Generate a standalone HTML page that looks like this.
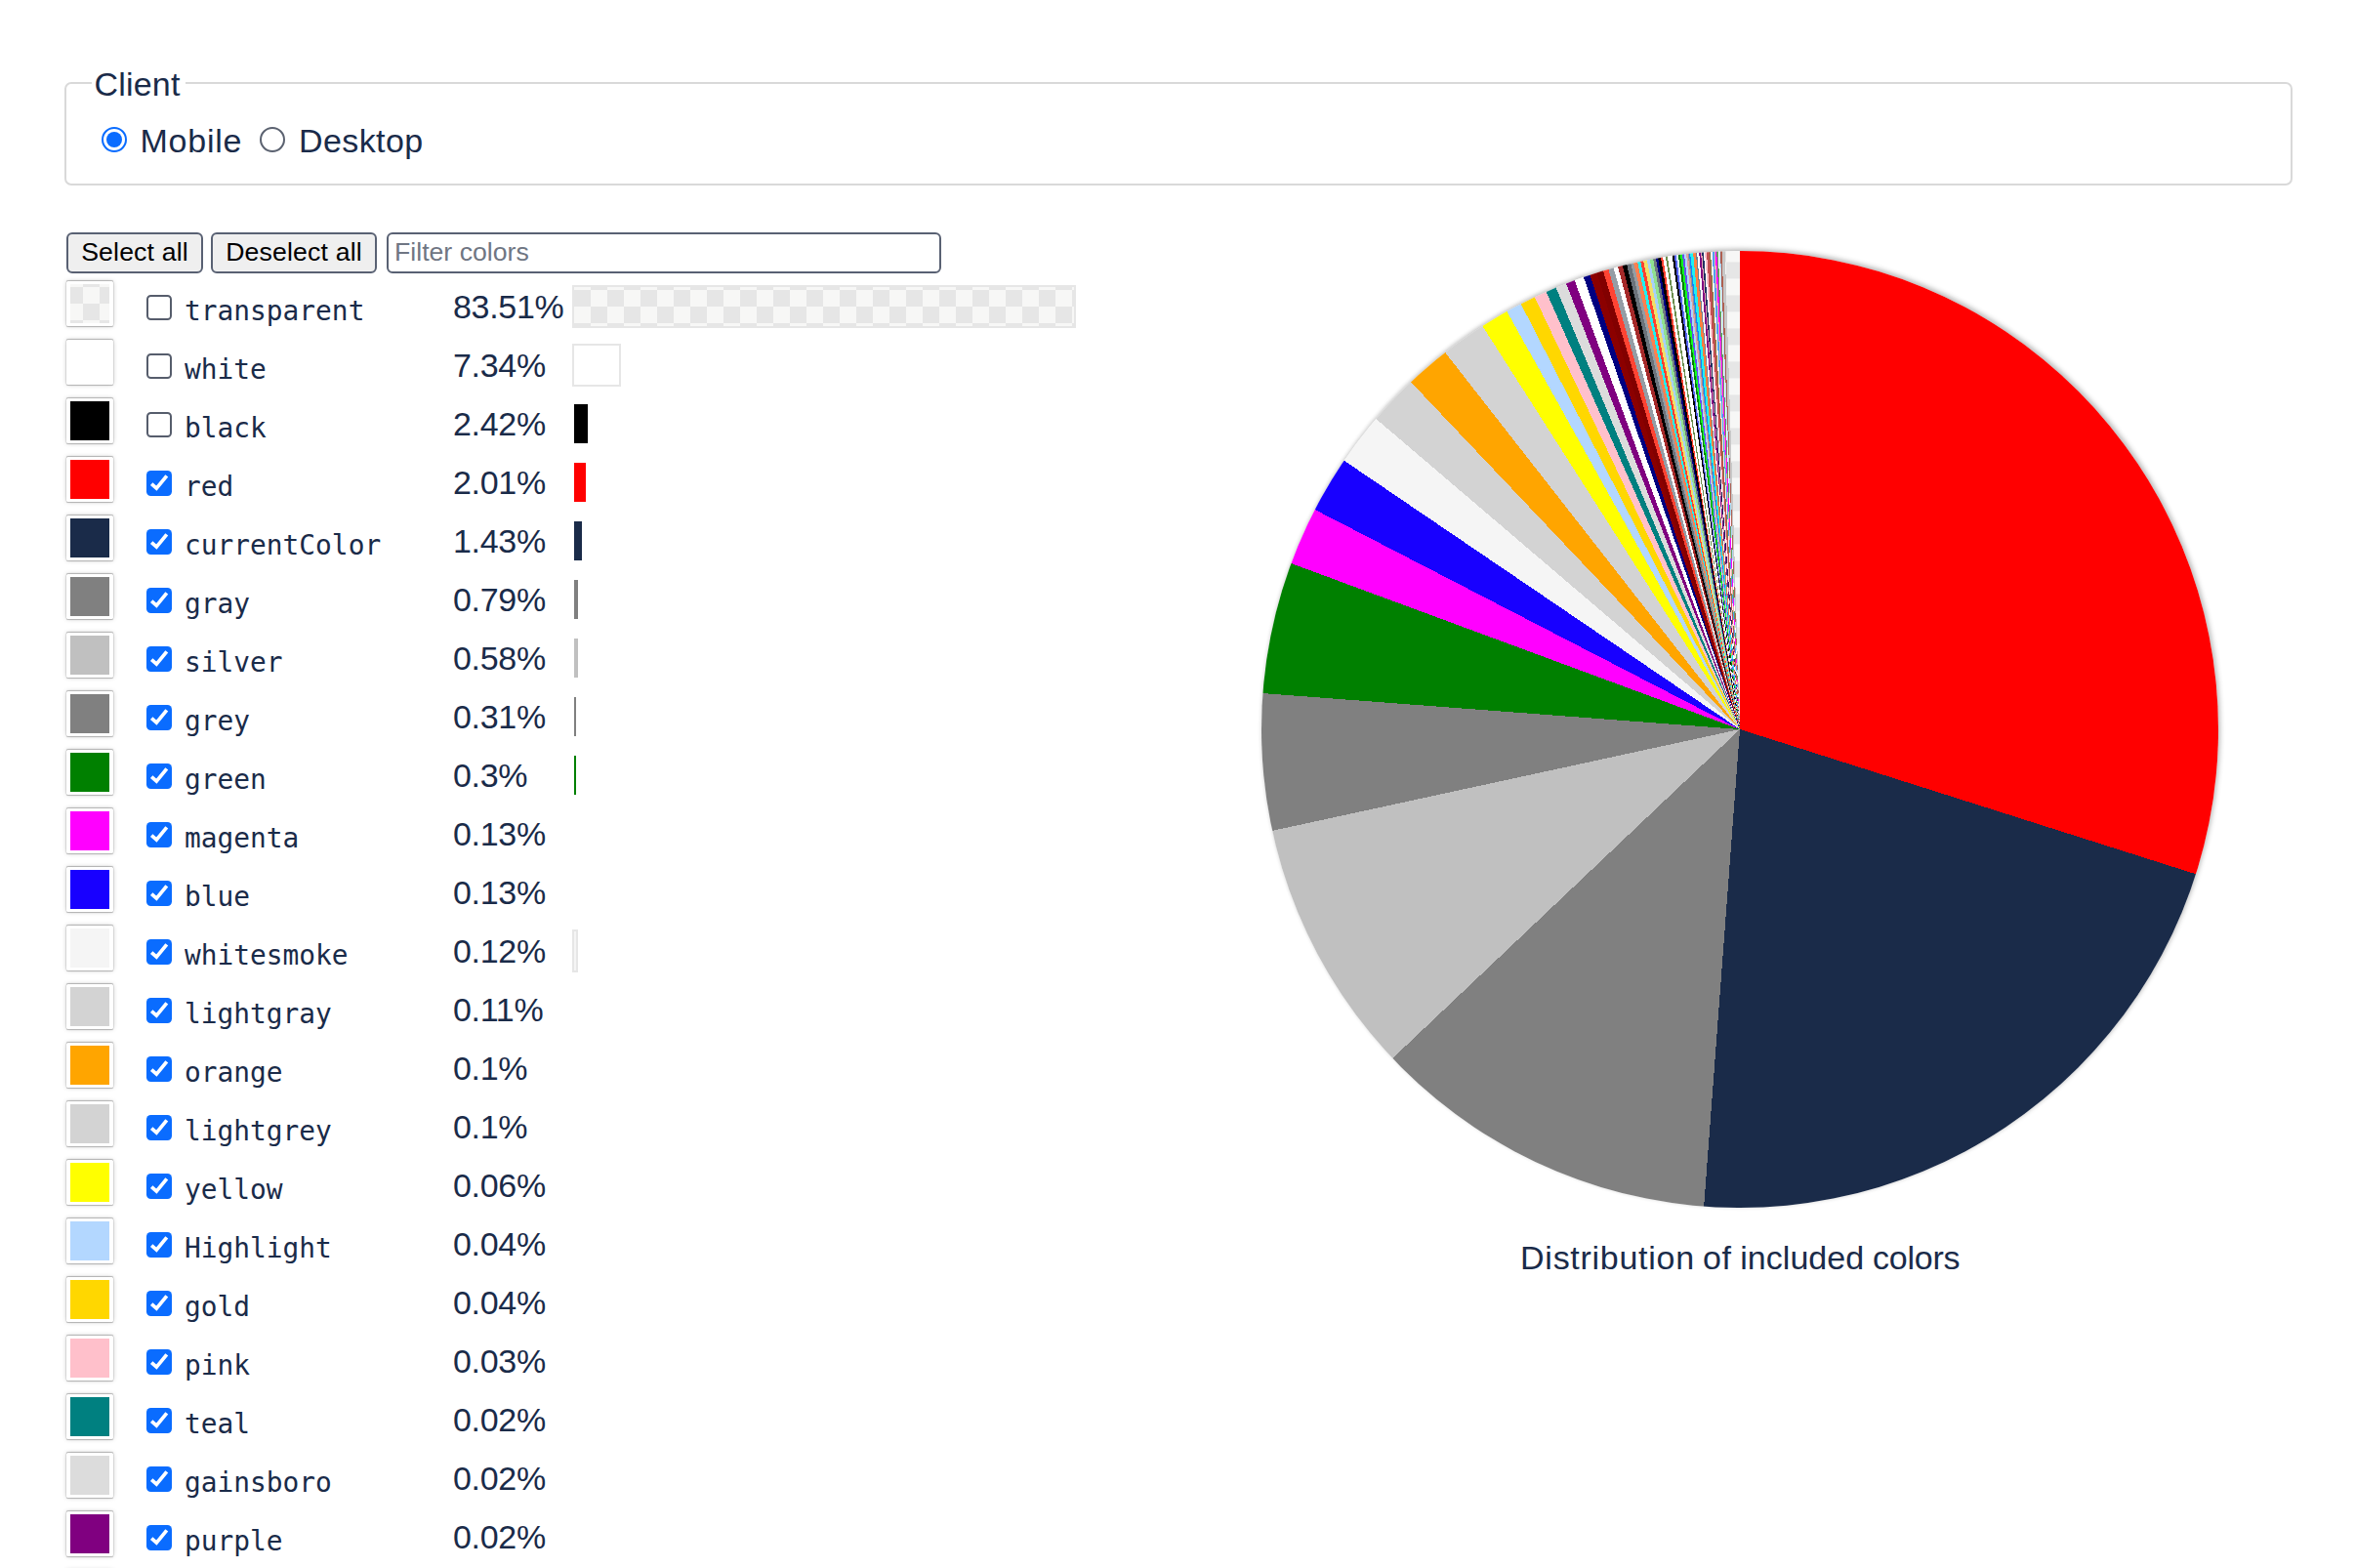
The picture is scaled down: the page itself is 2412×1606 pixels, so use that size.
<!DOCTYPE html><html lang="en"><head><meta charset="utf-8"><title>Color keywords</title><style>

*{box-sizing:border-box}
html,body{margin:0;padding:0;background:#fff}
@media (max-width:1500px){html{zoom:.5}}
body{width:2412px;height:1606px;position:relative;overflow:hidden;color:#1a2b49;font-family:"Liberation Sans",sans-serif;font-size:34px;line-height:1}
.abs{position:absolute}
.t{position:absolute;white-space:nowrap;line-height:40px;height:40px}
fieldset{position:absolute;left:66px;top:84px;width:2282px;height:106px;margin:0;padding:0;border:2px solid #d9d9d9;border-radius:7px}
.legend{position:absolute;left:94px;top:60px;width:96px;height:48px;background:#fff}
.radio{position:absolute;width:26px;height:26px;border-radius:50%;border:2px solid #5b6270;background:#fff}
.radio.on{border-color:#0a6cff}
.radio.on:after{content:"";position:absolute;left:3px;top:3px;width:16px;height:16px;border-radius:50%;background:#0a6cff}
.btn{position:absolute;top:238px;height:42px;border:2.5px solid #596173;border-radius:6px;background:#efefef;color:#000;font-size:26.667px;line-height:37px;text-align:center;white-space:nowrap;letter-spacing:.15px}
.inp{position:absolute;left:396px;top:238px;width:568px;height:42px;border:2.5px solid #596173;border-radius:6px;background:#fff;color:#6f7683;font-size:26.667px;line-height:37px;padding-left:6px;white-space:nowrap}
.sw{position:absolute;left:68px;width:48px;height:46px;border-radius:1.5px;background:#fff;box-shadow:0 0 0 .5px rgba(0,0,0,.09),0 1.2px 1px -.6px rgba(0,0,0,.2),0 -1.2px 1px -.6px rgba(0,0,0,.2),0 0 5px rgba(0,0,0,.2)}
.sw i{position:absolute;left:4px;top:3px;width:40px;height:40px;display:block}
.cb{position:absolute;left:150px;width:26px;height:26px;border-radius:4.5px;border:2px solid #565d6c;background:#fff}
.cb.on{border:0;background:#0a6cff}
.cb svg{position:absolute;left:0;top:0}
.nm{left:189px;font-family:"DejaVu Sans Mono","Liberation Mono",monospace;font-size:27.85px;transform-origin:0 31px;transform:scaleY(1.03)}
.pc{left:464px;letter-spacing:-.3px}
.bar{position:absolute;left:588px;height:40px}
.bar.lt{outline:2px solid #e6e6e6}
#pie{position:absolute;left:1292px;top:257px;width:980px;height:980px;border-radius:50%;box-shadow:2px -2px 5px .5px rgba(0,0,0,.2),0 -1px 4px rgba(0,0,0,.1);background:conic-gradient(#ff0000 0 107.62deg,#1a2b49 0 184.31deg,#808080 0 226.54deg,#c0c0c0 0 257.76deg,#808080 0 274.32deg,#008000 0 290.3deg,#ff00ff 0 297.34deg,#1800ff 0 304.17deg,#f5f5f5 0 310.48deg,#d3d3d3 0 316.54deg,#ffa500 0 321.98deg,#d3d3d3 0 327.46deg,#ffff00 0 330.86deg,#b3d7ff 0 332.76deg,#ffd700 0 334.6deg,#ffc0cb 0 336.12deg,#008080 0 337.39deg,#dcdcdc 0 338.7deg,#800080 0 339.78deg,#ffffff 0 340.93deg,#000080 0 341.72deg,#8b0000 0 342.6deg,#820000 0 343.39deg,#ff4433 0 344.06deg,#959da5 0 344.69deg,#ffffff 0 345.23deg,#a52a2a 0 345.79deg,#000000 0 346.32deg,#6a727a 0 346.81deg,#959da3 0 347.17deg,#ff7f50 0 347.63deg,#20f0f0 0 348.0deg,#ff4030 0 348.36deg,#f0e068 0 348.79deg,#a8d0f8 0 349.15deg,#90e090 0 349.55deg,#707880 0 349.88deg,#000080 0 350.15deg,#000000 0 350.48deg,#ff4030 0 350.73deg,#ffffff 0 351.07deg,#6b8e4e 0 351.29deg,#ffffff 0 351.86deg,#000000 0 352.11deg,#5560f0 0 352.35deg,#d8ecfc 0 352.6deg,#008000 0 352.84deg,#10ff20 0 353.08deg,#6050f0 0 353.31deg,#b0d8f8 0 353.56deg,#e0a0a0 0 353.76deg,#909090 0 353.9deg,#1080ff 0 354.05deg,#20f0f0 0 354.39deg,#ff8040 0 354.72deg,#708090 0 354.86deg,#ffffff 0 355.11deg,#800080 0 355.33deg,#e0a0b0 0 355.46deg,#203060 0 355.65deg,#ffffff 0 355.8deg,#ffc0cb 0 356.02deg,#c05050 0 356.36deg,#808040 0 356.49deg,#fff0f0 0 356.68deg,#50a0f0 0 356.9deg,#f0b0b0 0 357.05deg,#ff00ff 0 357.22deg,#60a060 0 357.39deg,#ffffff 0 357.52deg,#b0d8f8 0 357.66deg,#b06050 0 357.84deg,#c8c8c8 0 358.22deg,transparent 0), repeating-conic-gradient(#e6e6e6 0 25%,#f7f7f6 0 50%) 459px 11.399999999999977px/34px 34px}
.cap{position:absolute;left:0;top:1268px;width:2412px;height:40px}

</style></head><body>
<fieldset></fieldset><div class="legend"></div>
<div class="t" id="lg" style="left:96.5px;top:66px;letter-spacing:.2px">Client</div>
<div class="radio on" style="left:104px;top:130px"></div><div class="t" id="mob" style="left:143.5px;top:123.7px;letter-spacing:.75px">Mobile</div>
<div class="radio" style="left:266px;top:130px"></div><div class="t" id="desk" style="left:306px;top:123.7px;letter-spacing:.4px">Desktop</div>
<div class="btn" style="left:68px;width:140px">Select all</div>
<div class="btn" style="left:216px;width:170px">Deselect all</div>
<div class="inp">Filter colors</div>
<div class="sw" style="top:288px"><i style="background:repeating-conic-gradient(#e6e6e6 0 25%,#f7f7f6 0 50%) -4px -14px/34px 34px"></i></div>
<div class="cb" style="top:302px"></div>
<div class="t nm" style="top:299px">transparent</div>
<div class="t pc" style="top:294px">83.51%</div>
<div class="bar lt" style="top:294px;width:512px;background:repeating-conic-gradient(#e6e6e6 0 25%,#f7f7f6 0 50%) 0px -14px/34px 34px"></div>
<div class="sw" style="top:348px"><i style="background:#ffffff"></i></div>
<div class="cb" style="top:362px"></div>
<div class="t nm" style="top:359px">white</div>
<div class="t pc" style="top:354px">7.34%</div>
<div class="bar lt" style="top:354px;width:46px;background:#ffffff"></div>
<div class="sw" style="top:408px"><i style="background:#000000"></i></div>
<div class="cb" style="top:422px"></div>
<div class="t nm" style="top:419px">black</div>
<div class="t pc" style="top:414px">2.42%</div>
<div class="bar" style="top:414px;width:14px;background:#000000"></div>
<div class="sw" style="top:468px"><i style="background:#ff0000"></i></div>
<div class="cb on" style="top:482px"><svg width="26" height="26" viewBox="0 0 26 26"><path d="M5.2 13.6L10.3 18.1L20.8 5.3" fill="none" stroke="#fff" stroke-width="3.7"/></svg></div>
<div class="t nm" style="top:479px">red</div>
<div class="t pc" style="top:474px">2.01%</div>
<div class="bar" style="top:474px;width:12px;background:#ff0000"></div>
<div class="sw" style="top:528px"><i style="background:#1a2b49"></i></div>
<div class="cb on" style="top:542px"><svg width="26" height="26" viewBox="0 0 26 26"><path d="M5.2 13.6L10.3 18.1L20.8 5.3" fill="none" stroke="#fff" stroke-width="3.7"/></svg></div>
<div class="t nm" style="top:539px">currentColor</div>
<div class="t pc" style="top:534px">1.43%</div>
<div class="bar" style="top:534px;width:8px;background:#1a2b49"></div>
<div class="sw" style="top:588px"><i style="background:#808080"></i></div>
<div class="cb on" style="top:602px"><svg width="26" height="26" viewBox="0 0 26 26"><path d="M5.2 13.6L10.3 18.1L20.8 5.3" fill="none" stroke="#fff" stroke-width="3.7"/></svg></div>
<div class="t nm" style="top:599px">gray</div>
<div class="t pc" style="top:594px">0.79%</div>
<div class="bar" style="top:594px;width:4px;background:#808080"></div>
<div class="sw" style="top:648px"><i style="background:#c0c0c0"></i></div>
<div class="cb on" style="top:662px"><svg width="26" height="26" viewBox="0 0 26 26"><path d="M5.2 13.6L10.3 18.1L20.8 5.3" fill="none" stroke="#fff" stroke-width="3.7"/></svg></div>
<div class="t nm" style="top:659px">silver</div>
<div class="t pc" style="top:654px">0.58%</div>
<div class="bar" style="top:654px;width:4px;background:#c0c0c0"></div>
<div class="sw" style="top:708px"><i style="background:#808080"></i></div>
<div class="cb on" style="top:722px"><svg width="26" height="26" viewBox="0 0 26 26"><path d="M5.2 13.6L10.3 18.1L20.8 5.3" fill="none" stroke="#fff" stroke-width="3.7"/></svg></div>
<div class="t nm" style="top:719px">grey</div>
<div class="t pc" style="top:714px">0.31%</div>
<div class="bar" style="top:714px;width:2px;background:#808080"></div>
<div class="sw" style="top:768px"><i style="background:#008000"></i></div>
<div class="cb on" style="top:782px"><svg width="26" height="26" viewBox="0 0 26 26"><path d="M5.2 13.6L10.3 18.1L20.8 5.3" fill="none" stroke="#fff" stroke-width="3.7"/></svg></div>
<div class="t nm" style="top:779px">green</div>
<div class="t pc" style="top:774px">0.3%</div>
<div class="bar" style="top:774px;width:2px;background:#008000"></div>
<div class="sw" style="top:828px"><i style="background:#ff00ff"></i></div>
<div class="cb on" style="top:842px"><svg width="26" height="26" viewBox="0 0 26 26"><path d="M5.2 13.6L10.3 18.1L20.8 5.3" fill="none" stroke="#fff" stroke-width="3.7"/></svg></div>
<div class="t nm" style="top:839px">magenta</div>
<div class="t pc" style="top:834px">0.13%</div>
<div class="sw" style="top:888px"><i style="background:#1800ff"></i></div>
<div class="cb on" style="top:902px"><svg width="26" height="26" viewBox="0 0 26 26"><path d="M5.2 13.6L10.3 18.1L20.8 5.3" fill="none" stroke="#fff" stroke-width="3.7"/></svg></div>
<div class="t nm" style="top:899px">blue</div>
<div class="t pc" style="top:894px">0.13%</div>
<div class="sw" style="top:948px"><i style="background:#f5f5f5"></i></div>
<div class="cb on" style="top:962px"><svg width="26" height="26" viewBox="0 0 26 26"><path d="M5.2 13.6L10.3 18.1L20.8 5.3" fill="none" stroke="#fff" stroke-width="3.7"/></svg></div>
<div class="t nm" style="top:959px">whitesmoke</div>
<div class="t pc" style="top:954px">0.12%</div>
<div class="bar lt" style="top:954px;width:2px;background:#f5f5f5"></div>
<div class="sw" style="top:1008px"><i style="background:#d3d3d3"></i></div>
<div class="cb on" style="top:1022px"><svg width="26" height="26" viewBox="0 0 26 26"><path d="M5.2 13.6L10.3 18.1L20.8 5.3" fill="none" stroke="#fff" stroke-width="3.7"/></svg></div>
<div class="t nm" style="top:1019px">lightgray</div>
<div class="t pc" style="top:1014px">0.11%</div>
<div class="sw" style="top:1068px"><i style="background:#ffa500"></i></div>
<div class="cb on" style="top:1082px"><svg width="26" height="26" viewBox="0 0 26 26"><path d="M5.2 13.6L10.3 18.1L20.8 5.3" fill="none" stroke="#fff" stroke-width="3.7"/></svg></div>
<div class="t nm" style="top:1079px">orange</div>
<div class="t pc" style="top:1074px">0.1%</div>
<div class="sw" style="top:1128px"><i style="background:#d3d3d3"></i></div>
<div class="cb on" style="top:1142px"><svg width="26" height="26" viewBox="0 0 26 26"><path d="M5.2 13.6L10.3 18.1L20.8 5.3" fill="none" stroke="#fff" stroke-width="3.7"/></svg></div>
<div class="t nm" style="top:1139px">lightgrey</div>
<div class="t pc" style="top:1134px">0.1%</div>
<div class="sw" style="top:1188px"><i style="background:#ffff00"></i></div>
<div class="cb on" style="top:1202px"><svg width="26" height="26" viewBox="0 0 26 26"><path d="M5.2 13.6L10.3 18.1L20.8 5.3" fill="none" stroke="#fff" stroke-width="3.7"/></svg></div>
<div class="t nm" style="top:1199px">yellow</div>
<div class="t pc" style="top:1194px">0.06%</div>
<div class="sw" style="top:1248px"><i style="background:#b3d7ff"></i></div>
<div class="cb on" style="top:1262px"><svg width="26" height="26" viewBox="0 0 26 26"><path d="M5.2 13.6L10.3 18.1L20.8 5.3" fill="none" stroke="#fff" stroke-width="3.7"/></svg></div>
<div class="t nm" style="top:1259px">Highlight</div>
<div class="t pc" style="top:1254px">0.04%</div>
<div class="sw" style="top:1308px"><i style="background:#ffd700"></i></div>
<div class="cb on" style="top:1322px"><svg width="26" height="26" viewBox="0 0 26 26"><path d="M5.2 13.6L10.3 18.1L20.8 5.3" fill="none" stroke="#fff" stroke-width="3.7"/></svg></div>
<div class="t nm" style="top:1319px">gold</div>
<div class="t pc" style="top:1314px">0.04%</div>
<div class="sw" style="top:1368px"><i style="background:#ffc0cb"></i></div>
<div class="cb on" style="top:1382px"><svg width="26" height="26" viewBox="0 0 26 26"><path d="M5.2 13.6L10.3 18.1L20.8 5.3" fill="none" stroke="#fff" stroke-width="3.7"/></svg></div>
<div class="t nm" style="top:1379px">pink</div>
<div class="t pc" style="top:1374px">0.03%</div>
<div class="sw" style="top:1428px"><i style="background:#008080"></i></div>
<div class="cb on" style="top:1442px"><svg width="26" height="26" viewBox="0 0 26 26"><path d="M5.2 13.6L10.3 18.1L20.8 5.3" fill="none" stroke="#fff" stroke-width="3.7"/></svg></div>
<div class="t nm" style="top:1439px">teal</div>
<div class="t pc" style="top:1434px">0.02%</div>
<div class="sw" style="top:1488px"><i style="background:#dcdcdc"></i></div>
<div class="cb on" style="top:1502px"><svg width="26" height="26" viewBox="0 0 26 26"><path d="M5.2 13.6L10.3 18.1L20.8 5.3" fill="none" stroke="#fff" stroke-width="3.7"/></svg></div>
<div class="t nm" style="top:1499px">gainsboro</div>
<div class="t pc" style="top:1494px">0.02%</div>
<div class="sw" style="top:1548px"><i style="background:#800080"></i></div>
<div class="cb on" style="top:1562px"><svg width="26" height="26" viewBox="0 0 26 26"><path d="M5.2 13.6L10.3 18.1L20.8 5.3" fill="none" stroke="#fff" stroke-width="3.7"/></svg></div>
<div class="t nm" style="top:1559px">purple</div>
<div class="t pc" style="top:1554px">0.02%</div>
<div class="sw" style="top:1608px"><i style="background:#fffafa"></i></div>
<div id="pie"></div>
<div class="cap" id="cap"><span class="t" style="left:1557.1px;letter-spacing:.72px">Distribution</span> <span class="t" style="left:1743.9px;letter-spacing:.7px">of</span> <span class="t" style="left:1782.2px;letter-spacing:.05px">included</span> <span class="t" style="left:1918px;letter-spacing:-.24px">colors</span></div>
</body></html>
